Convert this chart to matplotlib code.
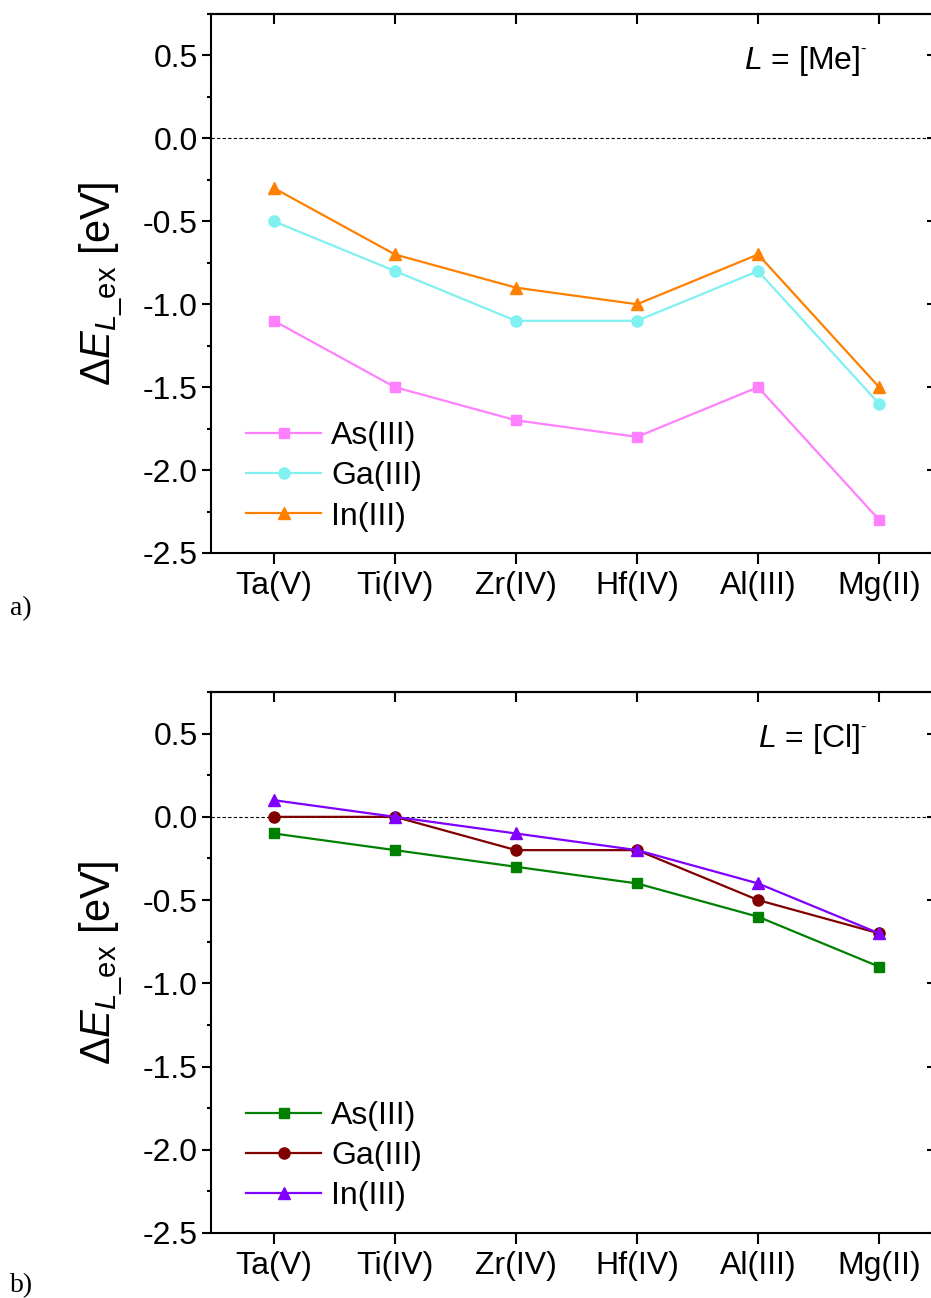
import matplotlib
matplotlib.use("Agg")
import matplotlib.pyplot as plt
from matplotlib.ticker import MultipleLocator

plt.rcParams["font.family"] = ["Liberation Sans", "DejaVu Sans"]
plt.rcParams["mathtext.fontset"] = "custom"
plt.rcParams["mathtext.rm"] = "Liberation Sans"
plt.rcParams["mathtext.it"] = "Liberation Sans:italic"
plt.rcParams["mathtext.bf"] = "Liberation Sans:bold"

# Data
centers = ["Ta(V)", "Ti(IV)", "Zr(IV)", "Hf(IV)", "Al(III)", "Mg(II)"]
series_names = ["As(III)", "Ga(III)", "In(III)"]

me_as = [-1.1, -1.5, -1.7, -1.8, -1.5, -2.3]
me_ga = [-0.5, -0.8, -1.1, -1.1, -0.8, -1.6]
me_in = [-0.3, -0.7, -0.9, -1.0, -0.7, -1.5]

cl_as = [-0.1, -0.2, -0.3, -0.4, -0.6, -0.9]
cl_ga = [0.0, 0.0, -0.2, -0.2, -0.5, -0.7]
cl_in = [0.1, 0.0, -0.1, -0.2, -0.4, -0.7]

y_ticks = [0.5, 0.0, -0.5, -1.0, -1.5, -2.0, -2.5]

markers = ["s", "o", "^"]
msizes = [7.5, 8, 9]
me_colors = ["#FF80FF", "#80F0F0", "#FF8000"]
cl_colors = ["#008000", "#800000", "#8000FF"]

FS = 23

fig = plt.figure(figsize=(9.31, 12.98), dpi=100)

W, H = 931.0, 1298.0
def rect(l, t, r, b):
    return [l / W, 1 - b / H, (r - l) / W, (b - t) / H]

ax_a = fig.add_axes(rect(211, 14, 936, 553))
ax_b = fig.add_axes(rect(211, 692, 936, 1233))


def draw_panel(ax, values, colors, ligand, tag, tag_y):
    x = list(range(len(centers)))
    handles = []
    for vals, name, mk, ms, col in zip(values, series_names, markers, msizes, colors):
        h, = ax.plot(x, vals, color=col, lw=1.6, marker=mk, ms=ms,
                     mfc=col, mec=col, label=name)
        handles.append(h)
    ax.axhline(0.0, color="black", lw=0.8, dashes=(3, 2), zorder=0)

    ax.set_xlim(-0.52, 5.47)
    ax.set_ylim(-2.5, 0.75)
    ax.set_xticks(x)
    ax.set_xticklabels(centers, fontsize=FS)
    ax.set_yticks(y_ticks)
    ax.set_yticklabels([f"{v:.1f}" for v in y_ticks], fontsize=FS)
    ax.yaxis.set_minor_locator(MultipleLocator(0.25))

    for s in ax.spines.values():
        s.set_linewidth(1.5)
    ax.tick_params(axis="x", which="major", direction="out", length=8, width=1.5,
                   pad=5, top=False)
    ax.tick_params(axis="y", which="major", direction="out", length=6.5, width=1.5,
                   pad=3, right=False)
    ax.tick_params(axis="y", which="minor", direction="out", length=3, width=1.5,
                   right=False)

    # inward ticks on the top and right frame
    top = ax.secondary_xaxis("top")
    top.set_xticks(x)
    top.set_xticklabels([])
    top.tick_params(direction="in", length=7.5, width=1.5)
    top.spines["top"].set_linewidth(1.5)
    right = ax.secondary_yaxis("right")
    right.set_yticks(y_ticks)
    right.set_yticklabels([])
    right.yaxis.set_minor_locator(MultipleLocator(0.25))
    right.tick_params(which="major", direction="in", length=6.5, width=1.5)
    right.tick_params(which="minor", direction="in", length=3, width=1.5)

    ax.set_ylabel(r"$\Delta\mathit{E}_{\mathit{L}\_\mathrm{ex}}$ [eV]", fontsize=30,
                  labelpad=12)

    ax.text(0.895, 0.913, r"$\mathit{L}$ = [" + ligand + "]",
            transform=ax.transAxes, ha="right", va="center", fontsize=FS)
    ax.text(0.896, 0.935, "-", transform=ax.transAxes, ha="left", va="center",
            fontsize=12)

    ax.legend(handles=handles, loc="lower left", bbox_to_anchor=(0.04, 0.028),
              frameon=False, fontsize=FS, handlelength=2.35, handletextpad=0.3,
              labelspacing=0.32, borderpad=0.2, borderaxespad=0)

    fig.text(10 / W, 1 - tag_y / H, tag, fontsize=20, family="Liberation Serif",
             ha="left", va="center")


draw_panel(ax_a, [me_as, me_ga, me_in], me_colors, "Me", "a)", 609)
draw_panel(ax_b, [cl_as, cl_ga, cl_in], cl_colors, "Cl", "b)", 1286)

fig.savefig("out.png", dpi=100)
